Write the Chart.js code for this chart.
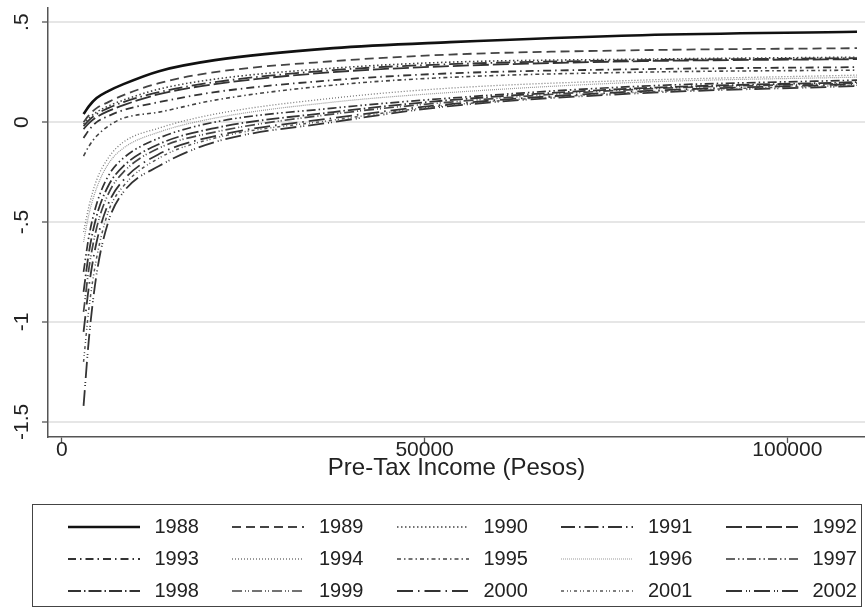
<!DOCTYPE html>
<html>
<head>
<meta charset="utf-8">
<script src="https://cdn.jsdelivr.net/npm/chart.js@4.4.0/dist/chart.umd.min.js"></script>
<style>
  html, body { margin: 0; padding: 0; background: #fff; }
  #wrap { position: relative; width: 865px; height: 612px; }
  #legend {
    position: absolute; left: 32px; top: 504px; width: 830px; height: 103px;
    box-sizing: border-box; border: 1.5px solid #444;
    display: grid; grid-template-columns: repeat(5, 164.5px); grid-template-rows: repeat(3, 32px);
    padding: 5.5px 0 0 34.5px;
    font-family: "Liberation Sans", Arial, sans-serif; font-size: 20px; color: #222;
  }
  .item { display: flex; align-items: center; }
  .item svg { margin-right: 15px; flex: none; }
</style>
</head>
<body>
<div id="wrap">
  <canvas id="c" width="865" height="612"></canvas>
  <div id="legend"></div>
</div>
<script>
	'use strict';

	// pre-tax income (pesos) where the curves were read
	var incomes = [3000, 3750, 4800, 6400, 8500, 13400, 21100, 37400, 53500, 80000, 109600];
	var years = ['1988', '1989', '1990', '1991', '1992', '1993', '1994', '1995',
		'1996', '1997', '1998', '1999', '2000', '2001', '2002'];

	var y1988 = [0.04, 0.08, 0.12, 0.155, 0.19, 0.255, 0.31, 0.37, 0.40, 0.435, 0.452];
	var y1989 = [0.00, 0.035, 0.07, 0.10, 0.135, 0.195, 0.25, 0.305, 0.338, 0.36, 0.37];
	var y1990 = [-0.01, 0.02, 0.05, 0.08, 0.11, 0.165, 0.215, 0.27, 0.30, 0.315, 0.325];
	var y1991 = [-0.02, 0.01, 0.04, 0.07, 0.10, 0.15, 0.20, 0.26, 0.29, 0.31, 0.32];
	var y1992 = [-0.035, -0.005, 0.025, 0.055, 0.085, 0.14, 0.19, 0.25, 0.28, 0.305, 0.315];
	var y1993 = [-0.08, -0.04, 0.0, 0.03, 0.06, 0.10, 0.15, 0.21, 0.244, 0.265, 0.275];
	var y1994 = [-0.55, -0.42, -0.29, -0.18, -0.10, -0.03, 0.04, 0.12, 0.17, 0.21, 0.235];
	var y1995 = [-0.17, -0.12, -0.07, -0.02, 0.02, 0.05, 0.11, 0.185, 0.224, 0.25, 0.26];
	var y1996 = [-0.60, -0.46, -0.33, -0.21, -0.13, -0.05, 0.02, 0.10, 0.148, 0.20, 0.225];
	var y1997 = [-0.75, -0.57, -0.41, -0.27, -0.18, -0.08, 0.0, 0.07, 0.12, 0.18, 0.21];
	var y1998 = [-0.85, -0.65, -0.47, -0.32, -0.22, -0.11, -0.03, 0.05, 0.11, 0.17, 0.20];
	var y1999 = [-0.95, -0.73, -0.53, -0.36, -0.25, -0.13, -0.05, 0.04, 0.10, 0.165, 0.195];
	var y2000 = [-1.05, -0.82, -0.60, -0.41, -0.29, -0.16, -0.07, 0.02, 0.09, 0.155, 0.19];
	var y2001 = [-1.20, -0.93, -0.68, -0.45, -0.32, -0.18, -0.08, 0.01, 0.085, 0.15, 0.185];
	var y2002 = [-1.42, -1.08, -0.76, -0.50, -0.35, -0.22, -0.10, 0.0, 0.08, 0.145, 0.18];

	var xTicks = [0, 50000, 100000];
	var yTicks = [-1.5, -1, -0.5, 0, 0.5];
	var yTickLabels = ['-1.5', '-1', '-.5', '0', '.5'];

	var series = [y1988, y1989, y1990, y1991, y1992, y1993, y1994, y1995,
		y1996, y1997, y1998, y1999, y2000, y2001, y2002];

	// stata-like line patterns, one per year
	var dashes = [
		[], [9, 5], [1.5, 2.5], [14, 4, 1.5, 4], [16, 4],
		[8, 4, 1.5, 4], [1, 2], [4, 3, 1.5, 3], [1, 1], [9, 3, 1.5, 3, 1.5, 3],
		[13, 3, 1.5, 3], [10, 3, 1, 2, 1, 3], [16, 5, 1.5, 5], [3, 3, 1, 2, 1, 3], [16, 4, 1, 2, 1, 4]
	];
	var colors = ['#111', '#444', '#444', '#333', '#333', '#333', '#777', '#444',
		'#999', '#333', '#333', '#444', '#333', '#555', '#333'];
	var widths = [2.6, 1.8, 1.6, 1.8, 1.8, 1.8, 1.3, 1.6, 1.2, 1.7, 1.8, 1.7, 1.8, 1.5, 1.8];

	var datasets = years.map(function (yr, i) {
		return {
			label: yr,
			data: incomes.map(function (x, j) { return { x: x, y: series[i][j] }; }),
			borderColor: colors[i],
			borderWidth: widths[i],
			borderDash: dashes[i],
			pointRadius: 0,
			fill: false,
			cubicInterpolationMode: 'monotone'
		};
	});

	var fontFamily = '"Liberation Sans", Arial, sans-serif';

	new Chart(document.getElementById('c'), {
		type: 'line',
		data: { datasets: datasets },
		options: {
			responsive: false,
			animation: false,
			events: [],
			layout: { padding: { top: 8, right: 0, bottom: 129, left: 0 } },
			plugins: { legend: { display: false }, tooltip: { enabled: false } },
			scales: {
				x: {
					type: 'linear',
					min: -1900,
					max: 110700,
					afterBuildTicks: function (scale) {
						scale.ticks = xTicks.map(function (v) { return { value: v }; });
					},
					afterFit: function (scale) { scale.paddingLeft = 0; scale.paddingRight = 0; },
					ticks: {
						color: '#222', font: { family: fontFamily, size: 21 }, padding: -5,
						maxRotation: 0, minRotation: 0,
						callback: function (v) { return String(v); }
					},
					grid: { drawOnChartArea: false, tickLength: 6, tickColor: '#555', tickWidth: 1.3 },
					border: { color: '#555', width: 1.5 },
					title: {
						display: true, text: 'Pre-Tax Income (Pesos)', color: '#222',
						font: { family: fontFamily, size: 24 }, padding: { top: -4, bottom: 0 }
					}
				},
				y: {
					min: -1.576,
					max: 0.571,
					afterBuildTicks: function (scale) {
						scale.ticks = yTicks.map(function (v) { return { value: v }; });
					},
					afterFit: function (scale) {
						scale.width = 48;
						scale.paddingTop = 0;
						scale.paddingBottom = 0;
					},
					ticks: {
						color: '#222', font: { family: fontFamily, size: 21 }, padding: 2,
						minRotation: 90, maxRotation: 90, crossAlign: 'center',
						callback: function (v) {
							var k = yTicks.indexOf(v);
							return k >= 0 ? yTickLabels[k] : '';
						}
					},
					grid: { color: '#e6e6e6', lineWidth: 2, tickLength: 6, tickColor: '#555', tickWidth: 1.3 },
					border: { color: '#555', width: 1.5 }
				}
			}
		}
	});

	// legend box built from the same dataset styles
	var legendEl = document.getElementById('legend');
	var svgNS = 'http://www.w3.org/2000/svg';
	years.forEach(function (yr, i) {
		var item = document.createElement('div');
		item.className = 'item';
		var svg = document.createElementNS(svgNS, 'svg');
		svg.setAttribute('width', '72');
		svg.setAttribute('height', '10');
		var line = document.createElementNS(svgNS, 'line');
		line.setAttribute('x1', '0'); line.setAttribute('y1', '5');
		line.setAttribute('x2', '72'); line.setAttribute('y2', '5');
		line.setAttribute('stroke', colors[i]);
		line.setAttribute('stroke-width', widths[i]);
		if (dashes[i].length) line.setAttribute('stroke-dasharray', dashes[i].join(' '));
		svg.appendChild(line);
		item.appendChild(svg);
		var txt = document.createElement('span');
		txt.textContent = yr;
		item.appendChild(txt);
		legendEl.appendChild(item);
	});
</script>
</body>
</html>
